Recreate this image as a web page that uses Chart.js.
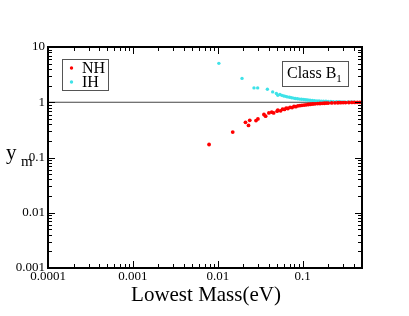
<!DOCTYPE html>
<html>
<head>
<meta charset="utf-8">
<script src="https://cdn.jsdelivr.net/npm/chart.js@4"></script>
<style>
  html, body { margin: 0; padding: 0; background: #fff; }
  #wrap { width: 409px; height: 316px; }
</style>
</head>
<body>
<div id="wrap"><canvas id="c" width="409" height="316"></canvas></div>
<script>
// ── Data ────────────────────────────────────────────────────
const nhMass = [0.0079, 0.015, 0.0212, 0.023, 0.0238, 0.0282, 0.0297, 0.035, 0.0366, 0.040,
  0.0432, 0.0455, 0.050, 0.051, 0.055, 0.058, 0.061, 0.064, 0.067, 0.071,
  0.075, 0.079, 0.083, 0.088, 0.093, 0.098, 0.104, 0.11, 0.117, 0.124,
  0.132, 0.14, 0.15, 0.16, 0.17, 0.18, 0.19, 0.2, 0.22, 0.24,
  0.26, 0.28, 0.3, 0.32, 0.35, 0.38, 0.41, 0.44, 0.47];
const nhY = [0.172, 0.288, 0.433, 0.38, 0.47, 0.465, 0.50, 0.60, 0.56, 0.64,
  0.66, 0.64, 0.69, 0.72, 0.70, 0.75, 0.74, 0.78, 0.77, 0.81,
  0.80, 0.84, 0.83, 0.86, 0.87, 0.88, 0.89, 0.90, 0.91, 0.92,
  0.93, 0.935, 0.945, 0.95, 0.955, 0.96, 0.965, 0.968, 0.972, 0.976,
  0.98, 0.983, 0.985, 0.987, 0.99, 0.992, 0.993, 0.995, 0.996];

const ihMass = [0.0103, 0.0193, 0.0267, 0.0295, 0.0384, 0.0443, 0.049, 0.051, 0.054, 0.057,
  0.06, 0.063, 0.066, 0.07, 0.074, 0.078, 0.082, 0.087, 0.092, 0.097,
  0.103, 0.109, 0.115, 0.122, 0.13, 0.138, 0.147, 0.156, 0.166, 0.176,
  0.188, 0.2, 0.215, 0.23, 0.25, 0.27, 0.29, 0.31, 0.34, 0.37, 0.4];
const ihY = [5.06, 2.7, 1.82, 1.82, 1.72, 1.54, 1.44, 1.34, 1.38, 1.33,
  1.30, 1.28, 1.25, 1.23, 1.21, 1.19, 1.17, 1.16, 1.14, 1.13,
  1.12, 1.11, 1.10, 1.09, 1.08, 1.07, 1.06, 1.055, 1.05, 1.045,
  1.04, 1.035, 1.03, 1.027, 1.023, 1.02, 1.017, 1.015, 1.012, 1.01, 1.008];

const xTickLabels = ['0.0001', '0.001', '0.01', '0.1'];
const yTickLabels = ['0.001', '0.01', '0.1', '1', '10'];
const xRange = [0.0001, 0.5];
const yRange = [0.001, 10];

const RED  = '#ff0000';
const CYAN = '#3ee2e8';
const SERIF = '"Liberation Serif", "DejaVu Serif", serif';

const pts = (xs, ys) => xs.map((x, i) => ({ x, y: ys[i] }));

// ── Frame, ticks, labels, boxes ─────────────────────────────
const decorations = {
  id: 'decorations',
  afterDraw(chart) {
    const { ctx, chartArea: a, scales: { x, y } } = chart;
    ctx.save();

    // frame
    ctx.strokeStyle = '#000';
    ctx.lineWidth = 2;
    ctx.strokeRect(a.left, a.top, a.right - a.left, a.bottom - a.top);

    // log ticks, inward on all four sides
    ctx.lineWidth = 1;
    const logTicks = (min, max) => {
      const out = [];
      for (let d = Math.floor(Math.log10(min)); d <= Math.ceil(Math.log10(max)); d++) {
        for (let k = 1; k <= 9; k++) {
          const v = k * Math.pow(10, d);
          if (v >= min * 0.999 && v <= max * 1.001) out.push({ v, major: k === 1 });
        }
      }
      return out;
    };
    ctx.beginPath();
    logTicks(xRange[0], xRange[1]).forEach(t => {
      const px = Math.round(x.getPixelForValue(t.v)) + 0.5;
      const len = t.major ? 7 : 4;
      ctx.moveTo(px, a.bottom); ctx.lineTo(px, a.bottom - len);
      ctx.moveTo(px, a.top);    ctx.lineTo(px, a.top + len);
    });
    logTicks(yRange[0], yRange[1]).forEach(t => {
      const py = Math.round(y.getPixelForValue(t.v)) + 0.5;
      const len = t.major ? 7 : 4;
      ctx.moveTo(a.left, py);  ctx.lineTo(a.left + len, py);
      ctx.moveTo(a.right, py); ctx.lineTo(a.right - len, py);
    });
    ctx.stroke();

    // tick labels
    ctx.fillStyle = '#000';
    ctx.font = `13px ${SERIF}`;
    ctx.textAlign = 'center';
    ctx.textBaseline = 'top';
    xTickLabels.forEach(l => ctx.fillText(l, x.getPixelForValue(parseFloat(l)), a.bottom + 2));
    ctx.textAlign = 'right';
    ctx.textBaseline = 'middle';
    yTickLabels.forEach(l => ctx.fillText(l, a.left - 3, y.getPixelForValue(parseFloat(l))));

    // axis titles
    ctx.font = `21px ${SERIF}`;
    ctx.textAlign = 'center';
    ctx.textBaseline = 'middle';
    ctx.fillText('Lowest Mass(eV)', 206, 295);
    ctx.textAlign = 'left';
    ctx.fillText('y', 6, 153);
    ctx.font = `15px ${SERIF}`;
    ctx.fillText('m', 21, 162);

    // legend
    ctx.strokeStyle = '#555';
    ctx.lineWidth = 1;
    ctx.strokeRect(62.5, 59.5, 46, 31);
    ctx.fillStyle = RED;
    ctx.beginPath(); ctx.arc(71.5, 68, 1.7, 0, Math.PI * 2); ctx.fill();
    ctx.fillStyle = CYAN;
    ctx.beginPath(); ctx.arc(71.5, 82, 1.7, 0, Math.PI * 2); ctx.fill();
    ctx.fillStyle = '#000';
    ctx.font = `16px ${SERIF}`;
    ctx.textBaseline = 'middle';
    ctx.fillText('NH', 82, 69);
    ctx.fillText('IH', 82, 83);

    // class box
    ctx.strokeRect(282.5, 61.5, 66, 25);
    ctx.fillText('Class B', 287, 74);
    const w = ctx.measureText('Class B').width;
    ctx.font = `11px ${SERIF}`;
    ctx.fillText('1', 287 + w, 79);

    ctx.restore();
  }
};

new Chart(document.getElementById('c'), {
  type: 'scatter',
  data: {
    datasets: [
      {
        label: 'unity',
        type: 'line',
        data: [{ x: xRange[0], y: 1 }, { x: xRange[1], y: 1 }],
        borderColor: '#444',
        borderWidth: 1.2,
        pointRadius: 0,
        order: 3,
      },
      {
        label: 'IH',
        data: pts(ihMass, ihY),
        backgroundColor: CYAN,
        borderWidth: 0,
        pointRadius: 1.7,
        order: 2,
      },
      {
        label: 'NH',
        data: pts(nhMass, nhY),
        backgroundColor: RED,
        borderWidth: 0,
        pointRadius: 1.9,
        order: 1,
      },
    ],
  },
  options: {
    responsive: false,
    animation: false,
    layout: { padding: { left: 48, right: 47, top: 47, bottom: 48 } },
    plugins: { legend: { display: false }, tooltip: { enabled: false } },
    scales: {
      x: { type: 'logarithmic', min: xRange[0], max: xRange[1], display: false },
      y: { type: 'logarithmic', min: yRange[0], max: yRange[1], display: false },
    },
  },
  plugins: [decorations],
});
</script>
</body>
</html>
